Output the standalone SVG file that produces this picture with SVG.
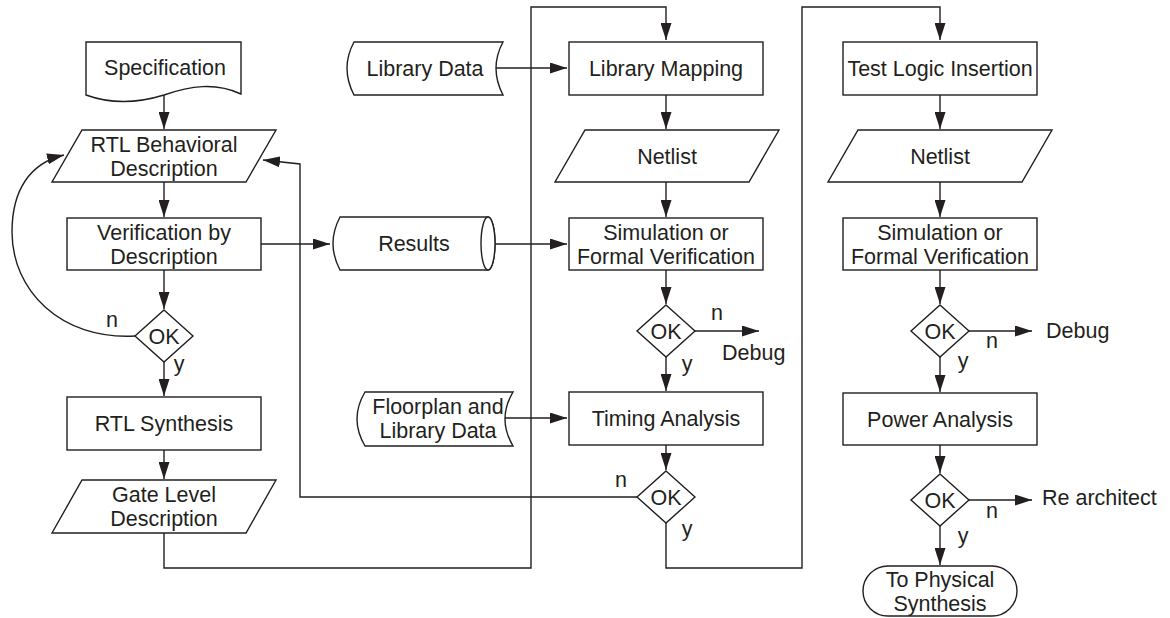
<svg xmlns="http://www.w3.org/2000/svg" width="1170" height="618" viewBox="0 0 1170 618">
<defs>
<marker id="ah" markerUnits="userSpaceOnUse" markerWidth="17" markerHeight="11" refX="17" refY="5.5" orient="auto">
<path d="M0,0 L17,5.5 L0,11 Z" fill="#231f20"/>
</marker>
<style>
.s{fill:#fff;stroke:#231f20;stroke-width:1.4}
.c{fill:none;stroke:#231f20;stroke-width:1.4}
.a{marker-end:url(#ah)}
text{font-family:"Liberation Sans",Arial,sans-serif;font-size:21.5px;fill:#231f20}
.m{text-anchor:middle}
</style>
</defs>
<rect width="1170" height="618" fill="#fff"/>

<g id="connectors">
<line class="c a" x1="164" y1="95" x2="164" y2="129"/>
<line class="c a" x1="164" y1="182" x2="164" y2="217"/>
<line class="c a" x1="164" y1="270" x2="164" y2="309"/>
<line class="c a" x1="164" y1="362" x2="164" y2="396"/>
<line class="c a" x1="164" y1="450" x2="164" y2="479"/>
<path class="c a" d="M135,336 C60,340 12,290 12,232 C12,190 30,163 64,155"/>
<line class="c a" x1="261" y1="244" x2="330" y2="244"/>
<line class="c a" x1="488" y1="244" x2="567" y2="244"/>
<line class="c a" x1="495" y1="68" x2="567" y2="68"/>
<line class="c a" x1="505" y1="418" x2="567" y2="418"/>
<polyline class="c a" points="164,533 164,568 531,568 531,7 666,7 666,40"/>
<line class="c a" x1="666" y1="95" x2="666" y2="129"/>
<line class="c a" x1="666" y1="182" x2="666" y2="217"/>
<line class="c a" x1="666" y1="270" x2="666" y2="304"/>
<line class="c a" x1="695" y1="331" x2="759" y2="331"/>
<line class="c a" x1="666" y1="357" x2="666" y2="391"/>
<line class="c a" x1="666" y1="445" x2="666" y2="470"/>
<polyline class="c a" points="637,497 300,497 300,164 263,160"/>
<polyline class="c a" points="666,523 666,568 802,568 802,7 940,7 940,40"/>
<line class="c a" x1="940" y1="95" x2="940" y2="129"/>
<line class="c a" x1="940" y1="182" x2="940" y2="217"/>
<line class="c a" x1="940" y1="270" x2="940" y2="304"/>
<line class="c a" x1="969" y1="331" x2="1032" y2="331"/>
<line class="c a" x1="940" y1="357" x2="940" y2="392"/>
<line class="c a" x1="940" y1="445" x2="940" y2="473"/>
<line class="c a" x1="969" y1="500" x2="1032" y2="500"/>
<line class="c a" x1="940" y1="526" x2="940" y2="565"/>
<text class="m" x="112" y="327">n</text>
<text class="m" x="179" y="371">y</text>
<text class="m" x="717" y="320">n</text>
<text x="722" y="360">Debug</text>
<text class="m" x="687" y="371">y</text>
<text class="m" x="621" y="487">n</text>
<text class="m" x="687" y="536">y</text>
<text class="m" x="992" y="348">n</text>
<text x="1046" y="338">Debug</text>
<text class="m" x="963" y="368">y</text>
<text class="m" x="992" y="518">n</text>
<text x="1042" y="505">Re architect</text>
<text class="m" x="963" y="543">y</text>
</g>

<g id="spec">
<path class="s" d="M86,42 H241 V94 C215,82 190,86 164,95 C135,104 108,103 86,95 Z"/>
<text class="m" x="165" y="75">Specification</text>
</g>
<g id="rtl-behavioral">
<polygon class="s" points="82,130 276,130 246,182 52,182"/>
<text class="m" x="164" y="151.5">RTL Behavioral</text>
<text class="m" x="164" y="175.5">Description</text>
</g>
<g id="verif-desc">
<rect class="s" x="67" y="218" width="194" height="52"/>
<text class="m" x="164" y="239.5">Verification by</text>
<text class="m" x="164" y="263.5">Description</text>
</g>
<g id="ok1">
<polygon class="s" points="164,310 193,336 164,362 135,336"/>
<text class="m" x="164" y="344">OK</text>
</g>
<g id="rtl-synth">
<rect class="s" x="67" y="397" width="194" height="53"/>
<text class="m" x="164" y="431">RTL Synthesis</text>
</g>
<g id="gate-level">
<polygon class="s" points="82,480 276,480 246,533 52,533"/>
<text class="m" x="164" y="501.5">Gate Level</text>
<text class="m" x="164" y="525.5">Description</text>
</g>

<g id="library-data">
<path class="s" d="M354,42 H503 Q489,68 503,95 H354 Q340,68 354,42 Z"/>
<text class="m" x="425" y="75.5">Library Data</text>
</g>
<g id="results">
<path class="s" d="M340,217 H488 A7,26.5 0 0 1 488,270 H340 Q326,243.5 340,217 Z"/>
<ellipse class="s" cx="488" cy="243.5" rx="7" ry="26.5"/>
<text class="m" x="414" y="251">Results</text>
</g>
<g id="floorplan">
<path class="s" d="M365,392 H513 Q497,419 513,446 H365 Q349,419 365,392 Z"/>
<text class="m" x="438" y="414">Floorplan and</text>
<text class="m" x="438" y="438">Library Data</text>
</g>

<g id="library-mapping">
<rect class="s" x="569" y="42" width="194" height="53"/>
<text class="m" x="666" y="76">Library Mapping</text>
</g>
<g id="netlist1">
<polygon class="s" points="585,130 779,130 749,182 555,182"/>
<text class="m" x="667" y="163.5">Netlist</text>
</g>
<g id="sim1">
<rect class="s" x="569" y="218" width="194" height="52"/>
<text class="m" x="666" y="239.5">Simulation or</text>
<text class="m" x="666" y="263.5">Formal Verification</text>
</g>
<g id="ok2">
<polygon class="s" points="666,305 695,331 666,357 637,331"/>
<text class="m" x="666" y="339">OK</text>
</g>
<g id="timing">
<rect class="s" x="569" y="392" width="194" height="53"/>
<text class="m" x="666" y="426">Timing Analysis</text>
</g>
<g id="ok3">
<polygon class="s" points="666,471 695,497 666,523 637,497"/>
<text class="m" x="666" y="505">OK</text>
</g>

<g id="test-logic">
<rect class="s" x="843" y="42" width="194" height="53"/>
<text class="m" x="940" y="76">Test Logic Insertion</text>
</g>
<g id="netlist2">
<polygon class="s" points="858,130 1052,130 1022,182 828,182"/>
<text class="m" x="940" y="163.5">Netlist</text>
</g>
<g id="sim2">
<rect class="s" x="843" y="218" width="194" height="52"/>
<text class="m" x="940" y="239.5">Simulation or</text>
<text class="m" x="940" y="263.5">Formal Verification</text>
</g>
<g id="ok4">
<polygon class="s" points="940,305 969,331 940,357 911,331"/>
<text class="m" x="940" y="339">OK</text>
</g>
<g id="power">
<rect class="s" x="843" y="393" width="194" height="52"/>
<text class="m" x="940" y="426.5">Power Analysis</text>
</g>
<g id="ok5">
<polygon class="s" points="940,474 969,500 940,526 911,500"/>
<text class="m" x="940" y="508">OK</text>
</g>
<g id="physical">
<rect class="s" x="863" y="566" width="154" height="50" rx="25" ry="25"/>
<text class="m" x="940" y="586.5">To Physical</text>
<text class="m" x="940" y="610.5">Synthesis</text>
</g>
</svg>
